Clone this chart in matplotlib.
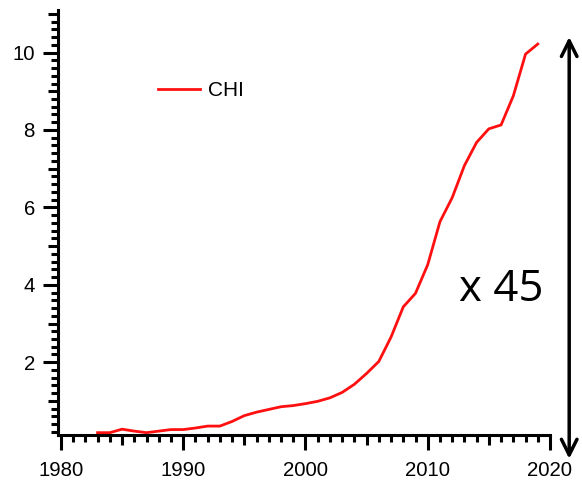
import matplotlib
matplotlib.use('Agg')
import matplotlib.pyplot as plt
import numpy as np
from matplotlib.ticker import MultipleLocator

# CHI series, one value per year
years = np.arange(1983, 2020)
chi = [0.18, 0.18, 0.27, 0.22, 0.18, 0.22, 0.26, 0.26, 0.30, 0.35,
       0.35, 0.47, 0.62, 0.71, 0.78, 0.85, 0.88, 0.93, 0.99, 1.08,
       1.22, 1.43, 1.71, 2.02, 2.65, 3.43, 3.78, 4.52, 5.63, 6.25,
       7.08, 7.68, 8.03, 8.13, 8.88, 9.96, 10.22]
series_name = 'CHI'
factor_label = 'x 45'

plt.rcParams['font.family'] = ['Liberation Sans', 'DejaVu Sans']

fig = plt.figure(figsize=(5.82, 4.87), dpi=100)
ax = fig.add_axes([0.1005, 0.1068, 0.8445, 0.8727])

ax.plot(years, chi, color='#ff1010', lw=2.0, label=series_name)

ax.set_xlim(1979.8, 2020)
ax.set_ylim(0.12, 11.1)

ax.xaxis.set_major_locator(MultipleLocator(10))
ax.xaxis.set_minor_locator(MultipleLocator(1))
ax.yaxis.set_major_locator(MultipleLocator(2))
ax.yaxis.set_minor_locator(MultipleLocator(0.2))

for s in ['top', 'right']:
    ax.spines[s].set_visible(False)
for s in ['left', 'bottom']:
    ax.spines[s].set_linewidth(2.2)

ax.tick_params(which='major', direction='out', length=11, width=2.2,
               labelsize=14.7, colors='black')
ax.tick_params(which='minor', direction='out', length=5, width=2.2)
ax.tick_params(axis='x', which='major', pad=8)
ax.tick_params(axis='y', which='major', pad=6)

# medium ticks every 5 years / every odd unit
fig.canvas.draw()
for t in ax.xaxis.get_minor_ticks():
    if abs(t.get_loc() % 5) < 1e-6 or abs(t.get_loc() % 5 - 5) < 1e-6:
        t.tick1line.set_markersize(7.5)
for t in ax.yaxis.get_minor_ticks():
    v = t.get_loc()
    if abs(v - round(v)) < 1e-6 and int(round(v)) % 2 == 1:
        t.tick1line.set_markersize(7.5)

leg = ax.legend(loc='upper left', bbox_to_anchor=(0.165, 0.877), frameon=False,
                fontsize=15, handlelength=2.0, handletextpad=0.4)

fig.text(0.862, 0.405, factor_label, fontsize=31.5, family='Open Sans',
         ha='center', va='center', color='black')

ax.annotate('', xy=(0.978, 0.924), xytext=(0.978, 0.058),
            xycoords='figure fraction', textcoords='figure fraction',
            arrowprops=dict(arrowstyle='<->', lw=2.5, color='black',
                            mutation_scale=28, shrinkA=0, shrinkB=0))

fig.savefig('out.png', dpi=100)
